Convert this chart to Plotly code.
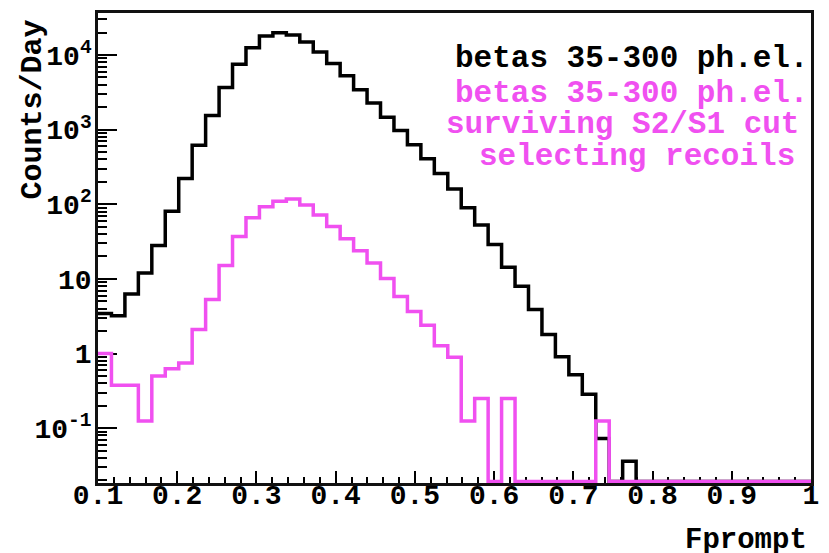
import numpy as np
import plotly.graph_objects as go

# ---------------- data ----------------
x_min, x_max, n_bins = 0.1, 1.0, 53

betas_all = [3.45, 3.2, 6.3, 12, 28, 81, 221, 617, 1545, 3680,
             7510, 12500, 17960, 19900, 18500, 14900, 11000, 7690, 5270, 3430,
             2275, 1466, 975, 628, 409, 258, 160, 90, 53, 29,
             14.3, 8.0, 3.9, 1.8, 0.91, 0.52, 0.285, 0.073, 0, 0.036,
             0, 0, 0, 0, 0, 0, 0, 0, 0, 0,
             0, 0, 0]

betas_cut = [1.0, 0.375, 0.375, 0.125, 0.5, 0.625, 0.75, 2.1, 5.3, 15.1,
             37, 66, 93, 110, 118, 98, 72, 50.4, 34.5, 23.9,
             16.3, 10.1, 5.8, 3.65, 2.4, 1.27, 0.89, 0.125, 0.25, 0,
             0.25, 0, 0, 0, 0, 0, 0, 0.125, 0, 0,
             0, 0, 0, 0, 0, 0, 0, 0, 0, 0,
             0, 0, 0]

x_tick_vals = [0.1, 0.2, 0.3, 0.4, 0.5, 0.6, 0.7, 0.8, 0.9, 1.0]
x_tick_text = ["0.1", "0.2", "0.3", "0.4", "0.5", "0.6", "0.7", "0.8", "0.9", "1"]
y_tick_vals = [0.1, 1, 10, 100, 1000, 10000]
y_tick_text = ["10<sup>-1</sup>", "1", "10", "10<sup>2</sup>", "10<sup>3</sup>", "10<sup>4</sup>"]

label_all = "betas 35-300 ph.el."
label_cut = ["betas 35-300 ph.el.", "surviving S2/S1 cut", "selecting recoils"]
x_title = "Fprompt"
y_title = "Counts/Day"

# ---------------- style ----------------
BLACK = "#000000"
MAGENTA = "#f050f0"
FONT = "Liberation Mono"
W, H = 829, 553
ML, MR, MT, MB = 98, 13, 10, 70
PW, PH = W - ML - MR, H - MT - MB
Y_RANGE = [-1.734, 4.563]
floor_val = 10 ** (Y_RANGE[0] + 0.02)

edges = np.linspace(x_min, x_max, n_bins + 1)


def step_y(vals):
    v = np.array(vals, dtype=float)
    v = np.where(v > 0, v, floor_val)
    return np.append(v, v[-1])


def px(xp):
    return (xp - ML) / PW


def py(yp):
    return (H - MB - yp) / PH


fig = go.Figure()
fig.add_trace(go.Scatter(x=edges, y=step_y(betas_all), mode="lines",
                         line=dict(shape="hv", color=BLACK, width=3.5),
                         showlegend=False, hoverinfo="skip"))
fig.add_trace(go.Scatter(x=edges, y=step_y(betas_cut), mode="lines",
                         line=dict(shape="hv", color=MAGENTA, width=3.5),
                         showlegend=False, hoverinfo="skip"))

xtickfont = dict(family=FONT, size=28, color="black", weight="bold")
ytickfont = dict(family=FONT, size=28, color="black", weight="bold")

y_minor = [m * 10.0 ** e for e in range(-2, 5) for m in range(2, 10)]

fig.update_xaxes(range=[x_min, x_max], tickmode="array", tickvals=x_tick_vals,
                 ticktext=x_tick_text, ticks="inside", ticklen=12, tickwidth=1.5,
                 tickcolor="black", showline=True, mirror=True, linecolor="#111",
                 linewidth=2.5, showgrid=False, zeroline=False, layer="below traces",
                 tickfont=xtickfont, ticklabelstandoff=-15,
                 minor=dict(ticks="inside", ticklen=6, tickwidth=1.5, tickcolor="black",
                            tick0=0.1, dtick=0.02, showgrid=False))
fig.update_yaxes(type="log", range=Y_RANGE, tickmode="array", tickvals=y_tick_vals,
                 ticktext=y_tick_text, ticks="inside", ticklen=19, tickwidth=1.5,
                 tickcolor="black", showline=True, mirror=True, linecolor="#111",
                 linewidth=2.5, showgrid=False, zeroline=False, layer="below traces",
                 tickfont=ytickfont, ticklabelstandoff=-2,
                 minor=dict(ticks="inside", ticklen=9, tickwidth=1.5, tickcolor="black",
                            tickmode="array", tickvals=y_minor, showgrid=False))

annots = []
afont = lambda c, s=31: dict(family=FONT, size=s, color=c, weight="bold")
annots.append(dict(text=label_all, x=px(455), y=py(56), xref="paper", yref="paper",
                   xanchor="left", yanchor="middle", showarrow=False, font=afont(BLACK)))
for txt, xl, yc in zip(label_cut, [455, 446, 480], [91.5, 122.5, 154]):
    annots.append(dict(text=txt, x=px(xl), y=py(yc), xref="paper", yref="paper",
                       xanchor="left", yanchor="middle", showarrow=False, font=afont(MAGENTA)))
annots.append(dict(text=x_title, x=px(814), y=py(541), xref="paper", yref="paper",
                   xanchor="right", yanchor="middle", showarrow=False, font=afont(BLACK, 29)))
annots.append(dict(text=y_title, x=px(33), y=py(14), xref="paper", yref="paper",
                   xanchor="center", yanchor="top", textangle=-90, showarrow=False,
                   font=afont(BLACK, 30)))

fig.update_layout(width=W, height=H, margin=dict(l=ML, r=MR, t=MT, b=MB),
                  paper_bgcolor="white", plot_bgcolor="white", annotations=annots,
                  showlegend=False)

fig.write_html("out.html")
